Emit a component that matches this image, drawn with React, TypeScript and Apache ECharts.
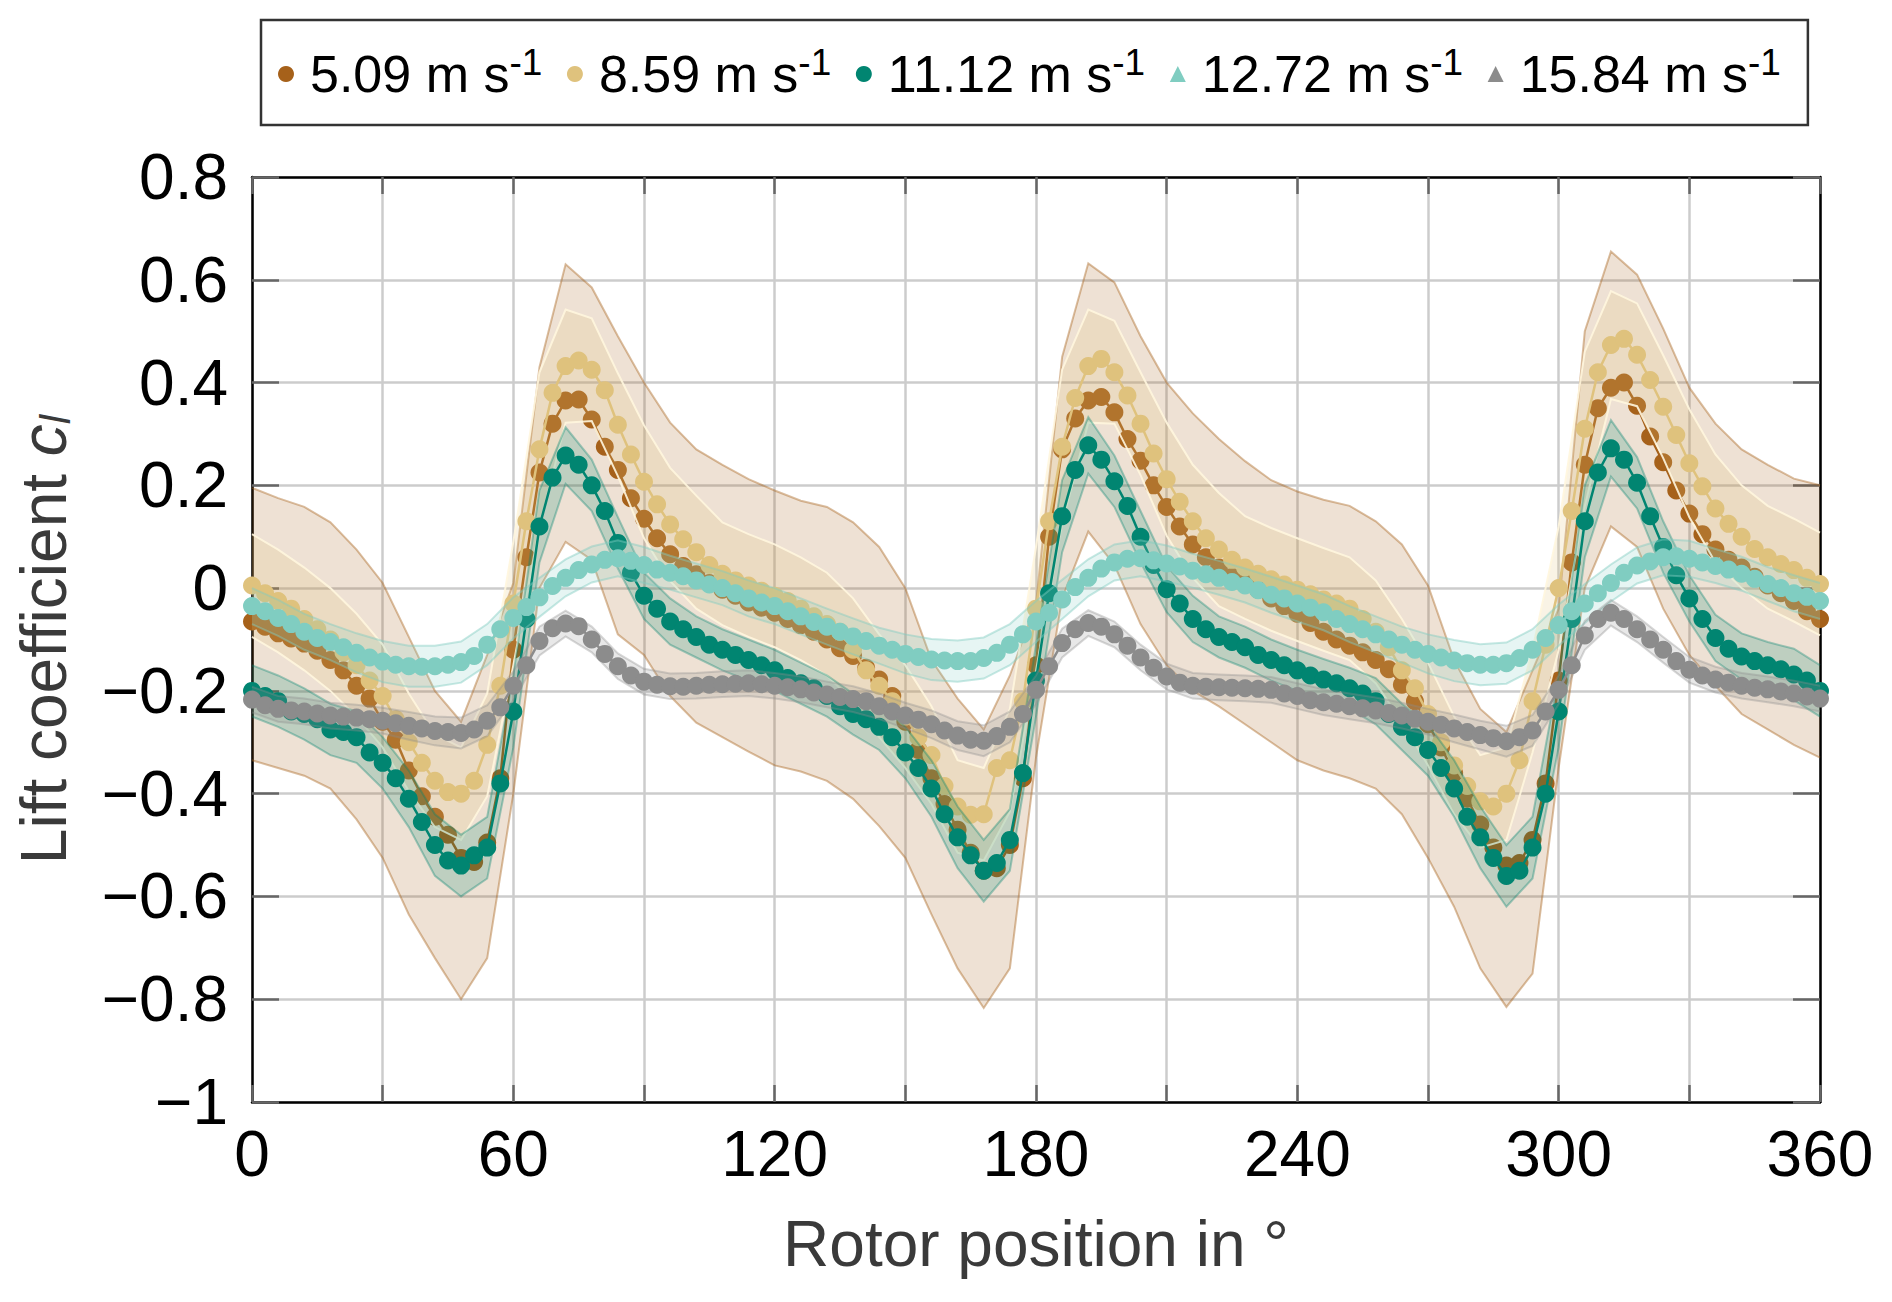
import { useEffect, useRef } from 'react'
import * as echarts from 'echarts'

const FONT = "'Liberation Sans', Arial, Helvetica, sans-serif"

// rotor position of the mean values (every 3°) and of the band edges (every 6°)
const angles = Array.from({ length: 121 }, (_, i) => i * 3)
const bandAngles = Array.from({ length: 61 }, (_, i) => i * 6)

const speeds = ['5.09', '8.59', '11.12', '12.72', '15.84']
const colors = ['#a6611a', '#dfc27d', '#018571', '#80cdc1', '#8c8c8c']
const legendIcons = ['circle', 'circle', 'circle', 'triangle', 'triangle']
const xTickLabels = [0, 60, 120, 180, 240, 300, 360]

// mean lift coefficient, one value every 3°
const cl509 = [
  -0.065, -0.075, -0.088, -0.098, -0.108, -0.122, -0.14, -0.16, -0.19, -0.215,
  -0.26, -0.295, -0.355, -0.405, -0.445, -0.48, -0.525, -0.533, -0.495, -0.37,
  -0.12, 0.06, 0.225, 0.32, 0.365, 0.367, 0.328, 0.275, 0.23, 0.175,
  0.135, 0.097, 0.066, 0.043, 0.027, 0.01, -0.003, -0.015, -0.028, -0.038,
  -0.048, -0.06, -0.072, -0.085, -0.1, -0.117, -0.132, -0.155, -0.178, -0.21,
  -0.26, -0.315, -0.37, -0.42, -0.47, -0.515, -0.55, -0.545, -0.5, -0.37,
  -0.15, 0.1, 0.27, 0.33, 0.365, 0.372, 0.342, 0.29, 0.248, 0.2,
  0.158, 0.12, 0.085, 0.06, 0.04, 0.022, 0.01, -0.003, -0.02, -0.035,
  -0.05, -0.068, -0.085, -0.1, -0.112, -0.125, -0.14, -0.158, -0.188, -0.22,
  -0.265, -0.31, -0.36, -0.41, -0.46, -0.505, -0.54, -0.535, -0.49, -0.38,
  -0.18, 0.05, 0.24, 0.35, 0.39, 0.4, 0.355, 0.295, 0.245, 0.19,
  0.145, 0.105, 0.075, 0.055, 0.04, 0.022, 0.005, -0.01, -0.025, -0.045,
  -0.06
]
const cl859 = [
  0.005, -0.01, -0.025, -0.04, -0.06, -0.08, -0.1, -0.125, -0.15, -0.18,
  -0.21, -0.255, -0.3, -0.34, -0.375, -0.397, -0.4, -0.375, -0.305, -0.19,
  -0.03, 0.13, 0.27, 0.38, 0.432, 0.443, 0.425, 0.385, 0.318, 0.26,
  0.207, 0.163, 0.124, 0.095, 0.07, 0.045, 0.028, 0.015, 0.005, -0.005,
  -0.015, -0.025, -0.04, -0.055, -0.07, -0.085, -0.12, -0.16, -0.19, -0.22,
  -0.25, -0.29, -0.325, -0.385, -0.425, -0.441, -0.44, -0.35, -0.335, -0.22,
  -0.04, 0.13, 0.275, 0.37, 0.432, 0.446, 0.42, 0.375, 0.32, 0.262,
  0.212, 0.168, 0.13, 0.097, 0.075, 0.055, 0.04, 0.028, 0.017, 0.007,
  -0.003, -0.012, -0.022, -0.03, -0.04, -0.06, -0.085, -0.115, -0.16, -0.195,
  -0.245, -0.3, -0.345, -0.385, -0.415, -0.425, -0.4, -0.335, -0.22, -0.11,
  0.0, 0.15, 0.31, 0.42, 0.473, 0.485, 0.454, 0.405, 0.353, 0.298,
  0.243, 0.198, 0.155, 0.125, 0.1, 0.076, 0.06, 0.047, 0.035, 0.02,
  0.008
]
const cl1112 = [
  -0.2, -0.21, -0.22, -0.24, -0.245, -0.255, -0.275, -0.28, -0.29, -0.32,
  -0.34, -0.37, -0.41, -0.455, -0.5, -0.53, -0.54, -0.52, -0.505, -0.38,
  -0.24, -0.06, 0.12, 0.215, 0.258, 0.24, 0.2, 0.15, 0.088, 0.03,
  -0.015, -0.04, -0.065, -0.08, -0.095, -0.11, -0.12, -0.13, -0.14, -0.15,
  -0.16, -0.175, -0.185, -0.195, -0.21, -0.23, -0.245, -0.255, -0.27, -0.29,
  -0.32, -0.35, -0.39, -0.44, -0.485, -0.52, -0.55, -0.535, -0.49, -0.36,
  -0.18, -0.01, 0.14, 0.23, 0.278, 0.25, 0.208, 0.16, 0.1, 0.045,
  -0.002, -0.03, -0.06, -0.08, -0.095, -0.105, -0.115, -0.13, -0.14, -0.15,
  -0.16, -0.17, -0.178, -0.185, -0.195, -0.205, -0.22, -0.245, -0.27, -0.29,
  -0.315, -0.35, -0.39, -0.445, -0.485, -0.525, -0.56, -0.55, -0.505, -0.4,
  -0.24, -0.06, 0.13, 0.225, 0.272, 0.25, 0.205, 0.14, 0.08, 0.025,
  -0.02, -0.06, -0.097, -0.118, -0.133, -0.142, -0.15, -0.158, -0.168, -0.18,
  -0.2
]
const cl1272 = [
  -0.035, -0.045, -0.058, -0.07, -0.085, -0.097, -0.105, -0.115, -0.126, -0.135,
  -0.143, -0.149, -0.152, -0.153, -0.152, -0.149, -0.144, -0.132, -0.11, -0.08,
  -0.058, -0.037, -0.018, 0.004, 0.02, 0.035, 0.046, 0.055, 0.058, 0.053,
  0.045, 0.036, 0.03, 0.023, 0.015, 0.007, 0.0, -0.01, -0.02, -0.028,
  -0.035, -0.045, -0.055, -0.066, -0.075, -0.085, -0.094, -0.103, -0.112, -0.12,
  -0.128, -0.134, -0.139, -0.141, -0.142, -0.142, -0.136, -0.126, -0.11, -0.09,
  -0.065, -0.048, -0.022, 0.002, 0.02, 0.038, 0.05, 0.057, 0.058, 0.054,
  0.048, 0.042, 0.034, 0.027, 0.02, 0.012, 0.005, -0.004, -0.013, -0.02,
  -0.03, -0.038, -0.047, -0.06, -0.07, -0.08, -0.09, -0.1, -0.11, -0.12,
  -0.128, -0.135, -0.141, -0.146, -0.149, -0.149, -0.146, -0.136, -0.12, -0.097,
  -0.072, -0.045, -0.03, -0.01, 0.01, 0.03, 0.044, 0.052, 0.06, 0.062,
  0.057, 0.05, 0.043, 0.036, 0.028, 0.018, 0.008, 0.0, -0.01, -0.017,
  -0.025
]
const cl1584 = [
  -0.217, -0.228, -0.235, -0.238, -0.24, -0.244, -0.248, -0.25, -0.252, -0.255,
  -0.258, -0.263, -0.268, -0.273, -0.278, -0.28, -0.282, -0.275, -0.258, -0.232,
  -0.19, -0.15, -0.103, -0.078, -0.069, -0.074, -0.1, -0.128, -0.152, -0.17,
  -0.182, -0.188, -0.191, -0.192, -0.19, -0.188, -0.187, -0.186, -0.185, -0.187,
  -0.19, -0.193, -0.197, -0.203, -0.207, -0.212, -0.216, -0.22, -0.23, -0.24,
  -0.248, -0.256, -0.265, -0.277, -0.287, -0.295, -0.297, -0.288, -0.27, -0.245,
  -0.198, -0.152, -0.107, -0.08, -0.068, -0.075, -0.09, -0.112, -0.135, -0.155,
  -0.172, -0.184, -0.19, -0.192, -0.193, -0.194, -0.195, -0.196, -0.198, -0.205,
  -0.21, -0.218, -0.222, -0.225, -0.23, -0.234, -0.238, -0.243, -0.248, -0.254,
  -0.26, -0.266, -0.273, -0.28, -0.286, -0.292, -0.298, -0.29, -0.277, -0.24,
  -0.198, -0.15, -0.092, -0.06, -0.048, -0.06, -0.08, -0.1, -0.12, -0.142,
  -0.159, -0.17, -0.178, -0.184, -0.19, -0.194, -0.197, -0.201, -0.205, -0.211,
  -0.215
]

// band of 5.09 m/s, edges every 6°
const upper509 = [
  0.195, 0.175, 0.158, 0.128, 0.075, 0.01, -0.095, -0.2, -0.26, -0.13, 0.01,
  0.43, 0.63, 0.585, 0.49, 0.4, 0.322, 0.27, 0.24, 0.212, 0.19,
  0.17, 0.158, 0.128, 0.08, 0.0, -0.14, -0.215, -0.275, -0.17, -0.03,
  0.45, 0.632, 0.595, 0.49, 0.4, 0.34, 0.29, 0.247, 0.21, 0.188,
  0.172, 0.16, 0.13, 0.085, 0.005, -0.14, -0.235, -0.28, -0.16, -0.04,
  0.5, 0.655, 0.61, 0.505, 0.39, 0.32, 0.27, 0.24, 0.213, 0.2
]
const lower509 = [
  -0.335, -0.35, -0.365, -0.39, -0.45, -0.525, -0.635, -0.72, -0.8, -0.72, -0.4,
  0.0, 0.09, 0.055, -0.09, -0.13, -0.21, -0.262, -0.29, -0.318, -0.345,
  -0.357, -0.375, -0.41, -0.463, -0.525, -0.635, -0.74, -0.817, -0.74, -0.33,
  -0.02, 0.11, 0.045, -0.07, -0.15, -0.2, -0.23, -0.265, -0.3, -0.335,
  -0.355, -0.37, -0.39, -0.44, -0.525, -0.62, -0.74, -0.815, -0.75, -0.35,
  0.0, 0.12, 0.08, -0.04, -0.13, -0.19, -0.245, -0.275, -0.305, -0.33
]
// half widths of the other bands, every 6°
const sd859 = [
  0.1, 0.1, 0.1, 0.1, 0.1, 0.1, 0.095, 0.09, 0.09, 0.1, 0.12,
  0.15, 0.11, 0.1, 0.1, 0.11, 0.11, 0.11, 0.1, 0.1, 0.1,
  0.1, 0.1, 0.1, 0.1, 0.1, 0.095, 0.09, 0.09, 0.1, 0.12,
  0.15, 0.11, 0.1, 0.1, 0.11, 0.11, 0.11, 0.1, 0.1, 0.1,
  0.1, 0.1, 0.1, 0.1, 0.1, 0.095, 0.09, 0.09, 0.1, 0.12,
  0.15, 0.105, 0.1, 0.1, 0.105, 0.105, 0.1, 0.1, 0.1, 0.1
]
const sd1112 = [
  0.05, 0.05, 0.05, 0.05, 0.05, 0.05, 0.055, 0.06, 0.06, 0.06, 0.07,
  0.07, 0.055, 0.05, 0.05, 0.045, 0.045, 0.04, 0.04, 0.04, 0.04,
  0.04, 0.04, 0.04, 0.045, 0.05, 0.055, 0.06, 0.06, 0.06, 0.07,
  0.07, 0.055, 0.05, 0.05, 0.045, 0.045, 0.04, 0.04, 0.04, 0.04,
  0.04, 0.04, 0.045, 0.045, 0.05, 0.055, 0.06, 0.06, 0.06, 0.07,
  0.07, 0.055, 0.05, 0.05, 0.045, 0.045, 0.045, 0.045, 0.05, 0.05
]
const sd1272 = [
  0.035, 0.035, 0.035, 0.035, 0.038, 0.04, 0.04, 0.04, 0.04, 0.04, 0.04,
  0.038, 0.036, 0.035, 0.035, 0.035, 0.033, 0.033, 0.033, 0.035, 0.035,
  0.035, 0.035, 0.035, 0.035, 0.038, 0.04, 0.04, 0.04, 0.04, 0.04,
  0.038, 0.036, 0.035, 0.035, 0.035, 0.033, 0.033, 0.033, 0.035, 0.035,
  0.035, 0.035, 0.035, 0.035, 0.038, 0.04, 0.04, 0.04, 0.04, 0.04,
  0.038, 0.036, 0.035, 0.035, 0.035, 0.033, 0.033, 0.033, 0.035, 0.035
]
const sd1584 = [
  0.025, 0.025, 0.025, 0.025, 0.025, 0.025, 0.027, 0.028, 0.03, 0.03, 0.028,
  0.028, 0.025, 0.025, 0.025, 0.025, 0.025, 0.025, 0.025, 0.025, 0.025,
  0.025, 0.025, 0.025, 0.025, 0.025, 0.027, 0.028, 0.03, 0.03, 0.028,
  0.028, 0.025, 0.025, 0.025, 0.025, 0.025, 0.025, 0.025, 0.025, 0.025,
  0.025, 0.025, 0.025, 0.025, 0.025, 0.027, 0.028, 0.03, 0.03, 0.028,
  0.028, 0.025, 0.025, 0.025, 0.025, 0.025, 0.025, 0.025, 0.025, 0.025
]

const means = [cl509, cl859, cl1112, cl1272, cl1584]
const halfWidths: (number[] | null)[] = [null, sd859, sd1112, sd1272, sd1584]
const bandFill = [
  'rgba(166,97,26,0.19)',
  'rgba(223,194,125,0.2)',
  'rgba(1,133,113,0.2)',
  'rgba(128,205,193,0.2)',
  'rgba(140,140,140,0.2)'
]
const bandEdge = [
  'rgba(166,97,26,0.42)',
  'rgba(255,246,222,0.9)',
  'rgba(1,133,113,0.35)',
  'rgba(128,205,193,0.45)',
  'rgba(140,140,140,0.35)'
]

const bandEdges = (i: number): [number[], number[]] => {
  const sd = halfWidths[i]
  if (!sd) return [upper509, lower509]
  const m = means[i]
  return [
    bandAngles.map((_, k) => m[k * 2] + sd[k]),
    bandAngles.map((_, k) => m[k * 2] - sd[k])
  ]
}

const makeBand = (i: number) => {
  const [up, lo] = bandEdges(i)
  return {
    type: 'custom',
    name: 'band ' + speeds[i],
    silent: true,
    z: 2 + i * 2,
    data: [[0, 0]],
    renderItem: (_params: any, api: any) => {
      const pu = bandAngles.map((a, k) => api.coord([a, up[k]]))
      const pl = bandAngles.map((a, k) => api.coord([a, lo[k]]))
      return {
        type: 'group',
        children: [
          {
            type: 'polygon',
            shape: { points: pu.concat(pl.slice().reverse()) },
            style: { fill: bandFill[i], stroke: 'none' }
          },
          {
            type: 'polyline',
            shape: { points: pu },
            style: { fill: 'none', stroke: bandEdge[i], lineWidth: 2 }
          },
          {
            type: 'polyline',
            shape: { points: pl },
            style: { fill: 'none', stroke: bandEdge[i], lineWidth: 2 }
          }
        ]
      }
    }
  }
}

const makeMean = (i: number) => ({
  type: 'line',
  name: speeds[i],
  data: angles.map((a, k) => [a, means[i][k]]),
  symbol: 'circle',
  symbolSize: 18,
  showSymbol: true,
  clip: false,
  silent: true,
  z: 3 + i * 2,
  itemStyle: { color: colors[i] },
  lineStyle: { color: colors[i], width: 2.5 },
  emphasis: { disabled: true }
})

const yLabel = (v: number) => {
  const r = Math.round(v * 10) / 10
  if (r === 0) return '0'
  return r < 0 ? '\u2212' + String(Math.abs(r)) : String(r)
}

const App = () => {
  const chartRef = useRef<HTMLDivElement>(null)

  useEffect(() => {
    document.body.style.margin = '0'
    if (!chartRef.current) return
    const chart = echarts.init(chartRef.current, undefined, { renderer: 'svg' })

    const frame = { show: true, onZero: false, lineStyle: { color: '#000', width: 2.5 } }
    const grid = { show: true, lineStyle: { color: '#cccccc', width: 2.5 } }
    const xTick = { show: true, inside: true, length: 17, lineStyle: { color: '#666', width: 2.5 } }
    const yTick = { show: true, inside: true, length: 27, lineStyle: { color: '#666', width: 2.5 } }

    const option = {
      animation: false,
      textStyle: { fontFamily: FONT },
      grid: { left: 252, right: 72, top: 177, bottom: 200, outerBoundsMode: 'none' },
      legend: {
        left: 261,
        top: 20,
        padding: [24, 27, 25, 17],
        itemWidth: 16,
        itemHeight: 16,
        itemGap: 24.6,
        borderColor: '#333',
        borderWidth: 2.5,
        selectedMode: false,
        data: speeds.map((s, i) => ({ name: s, icon: legendIcons[i] })),
        formatter: (n: string) => `{a|${n} m s}{b|-1}`,
        textStyle: {
          rich: {
            a: { fontSize: 52, lineHeight: 60, color: '#000', fontFamily: FONT, padding: [0, 0, 0, 11] },
            b: { fontSize: 37, lineHeight: 30, color: '#000', fontFamily: FONT, verticalAlign: 'top' }
          }
        }
      },
      xAxis: [
        {
          type: 'value',
          min: 0,
          max: 360,
          interval: 30,
          name: 'Rotor position in °',
          nameLocation: 'middle',
          nameGap: 110,
          nameTextStyle: { fontSize: 64, color: '#3a3a3a', fontFamily: FONT },
          axisLine: frame,
          axisTick: xTick,
          axisLabel: {
            fontSize: 64,
            color: '#000',
            margin: 20,
            fontFamily: FONT,
            formatter: (v: number) => (xTickLabels.includes(v) ? String(v) : '')
          },
          splitLine: grid
        },
        {
          type: 'value',
          position: 'top',
          min: 0,
          max: 360,
          interval: 30,
          axisLine: frame,
          axisTick: xTick,
          axisLabel: { show: false },
          splitLine: { show: false }
        }
      ],
      yAxis: [
        {
          type: 'value',
          min: -1,
          max: 0.8,
          interval: 0.2,
          name: '{a|Lift coefficient }{c|c}{l|l}',
          nameLocation: 'middle',
          nameRotate: 90,
          nameGap: 176,
          nameTextStyle: {
            rich: {
              a: { fontSize: 64, lineHeight: 64, color: '#3a3a3a', fontFamily: FONT },
              c: { fontSize: 64, lineHeight: 64, color: '#3a3a3a', fontFamily: FONT, fontStyle: 'italic' },
              l: { fontSize: 42, lineHeight: 42, color: '#3a3a3a', fontFamily: FONT, fontStyle: 'italic', verticalAlign: 'bottom' }
            }
          },
          axisLine: frame,
          axisTick: yTick,
          axisLabel: { fontSize: 64, color: '#000', margin: 24, fontFamily: FONT, formatter: yLabel },
          splitLine: grid
        },
        {
          type: 'value',
          position: 'right',
          min: -1,
          max: 0.8,
          interval: 0.2,
          axisLine: frame,
          axisTick: yTick,
          axisLabel: { show: false },
          splitLine: { show: false }
        }
      ],
      series: speeds.flatMap((_, i) => [makeBand(i), makeMean(i)])
    }

    chart.setOption(option as any)
    return () => {
      chart.dispose()
    }
  }, [])

  return <div ref={chartRef} style={{ width: '1892px', height: '1302px' }} />
}

export default App
